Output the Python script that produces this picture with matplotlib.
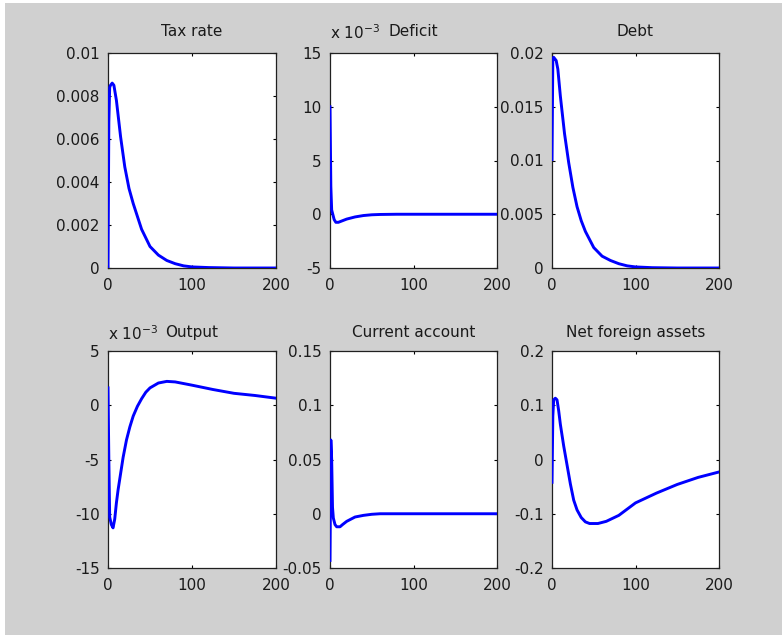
import matplotlib
matplotlib.use('Agg')
import matplotlib.pyplot as plt
from matplotlib.patches import Rectangle

plt.rcParams['font.family'] = ['DejaVu Sans']
plt.rcParams['font.size'] = 11

# values (impulse responses, periods 0..200)
tax_t = [0, 1, 2, 3, 5, 7, 10, 15, 20, 25, 30, 35, 40, 50, 60, 70, 80, 90, 100, 120, 150, 200]
tax_v = [0.0, 0.0068, 0.0084, 0.0085, 0.0086, 0.0085, 0.0078, 0.0061, 0.0047, 0.0037,
         0.0030, 0.0024, 0.0018, 0.0010, 0.0006, 0.00035, 0.0002, 0.0001, 0.00005,
         0.00002, 0.0, 0.0]

deficit_t = [0, 1, 2, 3, 5, 7, 10, 15, 20, 25, 30, 40, 50, 60, 80, 200]
deficit_v = [10.0e-3, 2.6e-3, 0.4e-3, 0.1e-3, -0.5e-3, -0.75e-3, -0.75e-3, -0.6e-3,
             -0.45e-3, -0.35e-3, -0.25e-3, -0.12e-3, -0.05e-3, -0.02e-3, 0.0, 0.0]

debt_t = [0, 1, 2, 5, 7, 10, 15, 20, 25, 30, 35, 40, 50, 60, 70, 80, 90, 100, 120, 150, 200]
debt_v = [0.0101, 0.0195, 0.0196, 0.0193, 0.0185, 0.0160, 0.0125, 0.0098, 0.0075, 0.0057,
          0.0044, 0.0034, 0.0019, 0.0011, 0.0007, 0.0004, 0.0002, 0.0001, 0.00003, 0.0, 0.0]

output_t = [0, 1, 2, 4, 6, 8, 10, 12, 15, 18, 22, 26, 30, 35, 40, 45, 50, 60, 70, 80,
            100, 125, 150, 175, 200]
output_v = [1.6e-3, -5.0e-3, -10.3e-3, -11.0e-3, -11.3e-3, -10.5e-3, -9.0e-3, -7.8e-3,
            -6.3e-3, -4.8e-3, -3.2e-3, -2.0e-3, -1.0e-3, -0.1e-3, 0.6e-3, 1.2e-3, 1.6e-3,
            2.05e-3, 2.2e-3, 2.15e-3, 1.85e-3, 1.45e-3, 1.1e-3, 0.9e-3, 0.65e-3]

ca_t = [0, 1, 2, 3, 4, 6, 8, 12, 15, 20, 25, 30, 40, 50, 60, 200]
ca_v = [-0.043, 0.068, 0.050, 0.006, -0.004, -0.010, -0.012, -0.012, -0.010, -0.007,
        -0.005, -0.003, -0.0015, -0.0005, 0.0, 0.0]

nfa_t = [0, 1, 2, 4, 6, 8, 10, 14, 18, 22, 26, 30, 35, 40, 45, 55, 65, 80, 100, 125,
         150, 175, 200]
nfa_v = [-0.042, 0.080, 0.110, 0.113, 0.110, 0.090, 0.065, 0.025, -0.010, -0.045,
         -0.075, -0.093, -0.107, -0.115, -0.118, -0.118, -0.114, -0.103, -0.080,
         -0.062, -0.046, -0.033, -0.023]

panels = [
    ('Tax rate', tax_t, tax_v, 1.0, (0, 0.01), [0, 0.002, 0.004, 0.006, 0.008, 0.01],
     ['0', '0.002', '0.004', '0.006', '0.008', '0.01']),
    ('Deficit', deficit_t, deficit_v, 1e3, (-5, 15), [-5, 0, 5, 10, 15],
     ['-5', '0', '5', '10', '15']),
    ('Debt', debt_t, debt_v, 1.0, (0, 0.02), [0, 0.005, 0.01, 0.015, 0.02],
     ['0', '0.005', '0.01', '0.015', '0.02']),
    ('Output', output_t, output_v, 1e3, (-15, 5), [-15, -10, -5, 0, 5],
     ['-15', '-10', '-5', '0', '5']),
    ('Current account', ca_t, ca_v, 1.0, (-0.05, 0.15), [-0.05, 0, 0.05, 0.1, 0.15],
     ['-0.05', '0', '0.05', '0.1', '0.15']),
    ('Net foreign assets', nfa_t, nfa_v, 1.0, (-0.2, 0.2), [-0.2, -0.1, 0, 0.1, 0.2],
     ['-0.2', '-0.1', '0', '0.1', '0.2']),
]

W, H = 782, 635
fig = plt.figure(figsize=(W / 100, H / 100), dpi=100, facecolor='white')
fig.patches.append(Rectangle((5 / W, 0), 1 - 5 / W, (H - 3) / H,
                             transform=fig.transFigure, facecolor='#d0d0d0',
                             edgecolor='none', zorder=-10))

lefts = [108, 330, 552]
widths = [168, 167, 167]
rows = [(53, 268), (351, 568)]

for k, (title, t, v, scale, ylim, yt, ytl) in enumerate(panels):
    r, c = divmod(k, 3)
    top, bot = rows[r]
    ax = fig.add_axes([lefts[c] / W, 1 - bot / H, widths[c] / W, (bot - top) / H])
    ax.set_facecolor('white')
    ax.plot(t, [x * scale for x in v], color='#0000ff', lw=2.1, zorder=4)
    ax.set_xlim(0, 200)
    ax.set_ylim(*ylim)
    ax.set_xticks([0, 100, 200])
    ax.set_yticks(yt)
    ax.set_yticklabels(ytl)
    ax.tick_params(direction='in', length=2.5, width=0.8, top=True, right=True,
                   labelsize=11, colors='black', labelcolor='#1a1a1a')
    ax.tick_params(axis='x', pad=7)
    ax.tick_params(axis='y', pad=6)
    for s in ax.spines.values():
        s.set_linewidth(0.9)
        s.set_color('#202020')
        s.set_zorder(3)
    ax.set_title(title, fontsize=11, pad=12 if r == 0 else 10, color='#1a1a1a')
    if scale != 1.0:
        ax.text(0.0, 1.05 if r == 0 else 1.035, r'x 10$^{-3}$', transform=ax.transAxes,
                ha='left', va='bottom', fontsize=11, color='#1a1a1a')

fig.savefig('out.png', dpi=100, facecolor='white')
